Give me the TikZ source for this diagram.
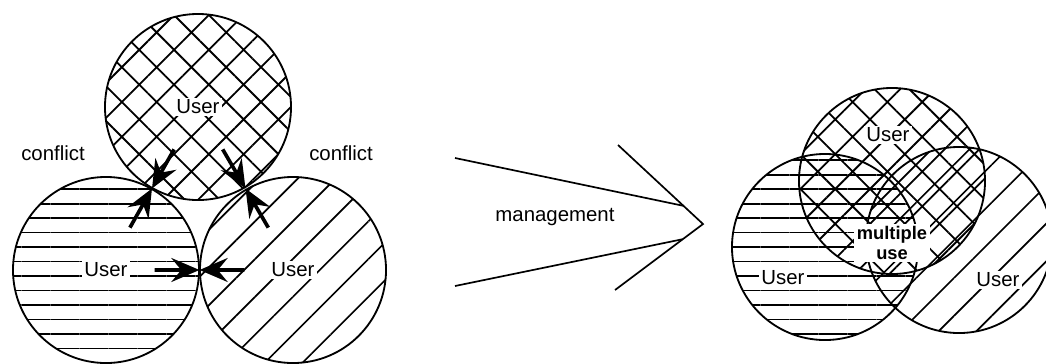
\documentclass[tikz,border=0pt]{standalone}
\usepackage{fontspec}
\setmainfont{Liberation Sans}
\usetikzlibrary{patterns.meta, arrows.meta, calc}

\begin{document}
\begin{tikzpicture}[x=0.025cm, y=-0.025cm,
    user/.style={circle, draw, line width=1.3pt, minimum size=4.65cm, inner sep=0pt},
    crossuser/.style={user, pattern={Hatch[angle=45, distance=17.5pt, line width=1.3pt]}},
    rowuser/.style={user, pattern={Lines[angle=0, distance=10.3pt, line width=1.2pt]}},
    slantuser/.style={user, pattern={Lines[angle=45, distance=19pt, line width=1.2pt]}},
    tag/.style={fill=white, inner sep=1.5pt, font=\fontsize{14.5}{17}\selectfont},
    smalltag/.style={fill=white, inner sep=2pt, align=center,
                     font=\fontsize{13}{14}\selectfont\bfseries},
    clash/.style={line width=2.6pt, -{Stealth[length=20pt, width=17pt, inset=7pt]}}
]
    \useasboundingbox (0,0) rectangle (1046,363);

    % before: three users touching each other
    \node[rowuser] (left) at (106,270) {};
    \node[slantuser] (right) at (293,270) {};
    \node[crossuser] (top) at (198,107) {};

    \coordinate (tl) at ($(top)!0.5!(left)$);
    \coordinate (tr) at ($(top)!0.5!(right)$);
    \coordinate (lr) at ($(left)!0.5!(right)$);

    \draw[clash] ($(top)!0.26!(left)$) -- (tl);
    \draw[clash] ($(left)!0.26!(top)$) -- (tl);
    \draw[clash] ($(top)!0.26!(right)$) -- (tr);
    \draw[clash] ($(right)!0.26!(top)$) -- (tr);
    \draw[clash] ($(left)!0.26!(right)$) -- (lr);
    \draw[clash] ($(right)!0.26!(left)$) -- (lr);

    \node[tag] (topname) at (top) {User};
    \node[tag] (leftname) at (left) {User};
    \node[tag] (rightname) at (right) {User};
    \node[tag] (conflictl) at (53,153) {conflict};
    \node[tag] (conflictr) at (341,153) {conflict};

    % management arrow
    \coordinate (tip) at (703,224);
    \coordinate (headup) at (618,145);
    \coordinate (headdown) at (615,290);
    \draw[line width=1.2pt] (455,158) -- ($(headup)!0.77!(tip)$);
    \draw[line width=1.2pt] (455,286) -- ($(headdown)!0.77!(tip)$);
    \draw[line width=1.2pt] (headup) -- (tip) -- (headdown);
    \node[tag, fill=none] (mgmt) at (555,217) {management};

    % after: overlapping users with multiple use
    \node[rowuser] (left2) at (825,247) {};
    \node[slantuser] (right2) at (959,240) {};
    \node[crossuser] (top2) at (892,181) {};

    \node[tag] (topname2) at (888,135) {User};
    \node[tag] (leftname2) at (783,278) {User};
    \node[tag] (rightname2) at (998,280) {User};
    \node[smalltag] (multi) at (892,243) {multiple\\use};
\end{tikzpicture}
\end{document}
